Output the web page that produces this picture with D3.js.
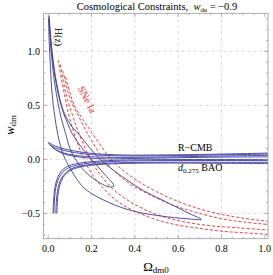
<!DOCTYPE html>
<html>
<head>
<meta charset="utf-8">
<script src="https://cdn.jsdelivr.net/npm/d3@7"></script>
<style>
  body { margin: 0; background: #fff; }
  svg text { font-family: "Liberation Serif", "DejaVu Serif", serif; }
</style>
</head>
<body>
<svg id="chart" width="273" height="275"></svg>
<script>
/* tick values */
let xTicks = [0.0, 0.2, 0.4, 0.6, 0.8, 1.0];
let yTicks = [-0.5, 0.0, 0.5, 1.0];

/* H(z) contours (closed loops) */
let hzOuter = [
    [0.003, 1.33], [0.01, 1.15], [0.02, 0.95], [0.032, 0.78], [0.045, 0.64], [0.061, 0.5],
    [0.08, 0.4], [0.11, 0.3], [0.147, 0.22], [0.19, 0.11], [0.24, 0.0], [0.3, -0.1],
    [0.37, -0.2], [0.44, -0.29], [0.52, -0.37], [0.6, -0.45], [0.66, -0.51], [0.707, -0.556],
    [0.64, -0.55], [0.52, -0.525], [0.39, -0.478], [0.28, -0.4], [0.18, -0.29], [0.145, -0.22],
    [0.1, -0.08], [0.07, 0.04], [0.045, 0.22], [0.03, 0.4], [0.018, 0.6], [0.01, 0.85],
    [0.004, 1.1], [0.002, 1.3], [0.003, 1.33]
];
let hzInner = [
    [0.004, 1.3], [0.012, 1.1], [0.022, 0.9], [0.035, 0.72], [0.05, 0.57], [0.07, 0.43],
    [0.09, 0.33], [0.11, 0.24], [0.15, 0.12], [0.19, 0.02], [0.23, -0.07], [0.27, -0.16],
    [0.3, -0.23], [0.302, -0.25], [0.28, -0.255], [0.24, -0.22], [0.19, -0.15], [0.15, -0.07],
    [0.12, 0.02], [0.1, 0.1], [0.08, 0.24], [0.06, 0.38], [0.045, 0.52], [0.03, 0.7],
    [0.018, 0.9], [0.009, 1.1], [0.004, 1.3]
];

/* SNe Ia contours (open bands) */
let sneLine1 = [[0.08, 0.76], [0.1, 0.62], [0.12, 0.5], [0.16, 0.37], [0.2, 0.25], [0.245, 0.12], [0.29, 0.0], [0.35, -0.11], [0.42, -0.21], [0.5, -0.3], [0.6, -0.39], [0.7, -0.46], [0.8, -0.51], [0.9, -0.545], [1.02, -0.575]];
let sneLine2 = [[0.068, 0.82], [0.085, 0.67], [0.105, 0.54], [0.14, 0.4], [0.17, 0.28], [0.21, 0.14], [0.255, 0.0], [0.31, -0.12], [0.38, -0.23], [0.47, -0.33], [0.57, -0.42], [0.68, -0.49], [0.8, -0.55], [0.9, -0.58], [1.02, -0.605]];
let sneLine3 = [[0.055, 0.88], [0.07, 0.72], [0.085, 0.58], [0.11, 0.42], [0.13, 0.3], [0.16, 0.15], [0.195, 0.0], [0.235, -0.13], [0.29, -0.26], [0.36, -0.37], [0.44, -0.46], [0.53, -0.53], [0.63, -0.58], [0.75, -0.615], [0.88, -0.635], [1.02, -0.655]];
let sneLine4 = [[0.046, 0.92], [0.06, 0.75], [0.075, 0.6], [0.09, 0.45], [0.11, 0.3], [0.135, 0.15], [0.165, 0.0], [0.2, -0.13], [0.25, -0.26], [0.32, -0.39], [0.4, -0.48], [0.5, -0.56], [0.6, -0.61], [0.7, -0.64], [0.8, -0.665], [0.9, -0.68], [1.02, -0.695]];

/* R-CMB contours */
let cmbOuter = [
    [1.02, 0.058], [0.7, 0.045], [0.5, 0.04], [0.35, 0.04], [0.2, 0.055], [0.1, 0.085],
    [0.05, 0.11], [0.02, 0.135], [0.0, 0.155], [0.005, 0.14], [0.02, 0.11], [0.045, 0.075],
    [0.08, 0.045], [0.13, 0.025], [0.2, 0.01], [0.27, 0.004], [0.4, 0.008], [0.6, 0.015],
    [0.8, 0.02], [1.02, 0.023]
];
let cmbInner = [
    [1.02, 0.049], [0.7, 0.038], [0.5, 0.033], [0.35, 0.032], [0.2, 0.043], [0.1, 0.07],
    [0.05, 0.095], [0.02, 0.12], [0.008, 0.135], [0.015, 0.12], [0.035, 0.09], [0.07, 0.06],
    [0.12, 0.038], [0.2, 0.024], [0.3, 0.018], [0.5, 0.02], [0.7, 0.027], [1.02, 0.037]
];

/* d0.275 BAO contours */
let baoOuterLeft = [[0.022, -0.5], [0.024, -0.4], [0.028, -0.3], [0.035, -0.22], [0.045, -0.16], [0.06, -0.11], [0.08, -0.075], [0.12, -0.045], [0.2, -0.022], [0.3, -0.01], [0.45, -0.004], [0.65, -0.002], [1.02, -0.003]];
let baoInnerLeft = [[0.026, -0.5], [0.028, -0.4], [0.032, -0.3], [0.039, -0.23], [0.05, -0.17], [0.066, -0.12], [0.088, -0.085], [0.13, -0.055], [0.2, -0.033], [0.3, -0.02], [0.45, -0.013], [0.65, -0.011], [1.02, -0.012]];
let baoInnerRight = [[0.035, -0.5], [0.037, -0.4], [0.042, -0.3], [0.05, -0.23], [0.062, -0.17], [0.08, -0.125], [0.1, -0.095], [0.14, -0.065], [0.21, -0.045], [0.3, -0.034], [0.5, -0.027], [0.7, -0.027], [1.02, -0.028]];
let baoOuterRight = [[0.04, -0.5], [0.042, -0.4], [0.047, -0.3], [0.055, -0.23], [0.068, -0.17], [0.085, -0.13], [0.11, -0.095], [0.15, -0.07], [0.22, -0.05], [0.32, -0.04], [0.5, -0.035], [0.7, -0.036], [1.02, -0.04]];

let svg = d3.select("#chart");

let plot = { left: 43.5, right: 268, top: 13.3, bottom: 238.7 };

let x = d3.scaleLinear().domain([-0.022, 1.015]).range([plot.left, plot.right]);
let y = d3.scaleLinear().domain([-0.735, 1.352]).range([plot.bottom, plot.top]);

/* dashed grid */
let grid = svg.append("g").attr("class", "grid");
xTicks.filter(d => d > 0 && d < 1).forEach(d => {
    grid.append("line")
        .attr("x1", x(d)).attr("x2", x(d))
        .attr("y1", plot.top).attr("y2", plot.bottom)
        .attr("stroke", "#d0d0d0").attr("stroke-width", 0.8).attr("stroke-dasharray", "3,3");
});
yTicks.forEach(d => {
    grid.append("line")
        .attr("x1", plot.left).attr("x2", plot.right)
        .attr("y1", y(d)).attr("y2", y(d))
        .attr("stroke", "#d0d0d0").attr("stroke-width", 0.8).attr("stroke-dasharray", "3,3");
});

/* clip */
svg.append("clipPath").attr("id", "clip")
    .append("rect")
    .attr("x", plot.left).attr("y", plot.top)
    .attr("width", plot.right - plot.left).attr("height", plot.bottom - plot.top);

let curves = svg.append("g").attr("clip-path", "url(#clip)");

let line = d3.line()
    .x(d => x(d[0]))
    .y(d => y(d[1]))
    .curve(d3.curveCatmullRom.alpha(0.5));

[sneLine1, sneLine2, sneLine3, sneLine4].forEach(pts => {
    curves.append("path")
        .attr("d", line(pts))
        .attr("fill", "none")
        .attr("stroke", "#ff3b3b")
        .attr("stroke-width", 1)
        .attr("stroke-dasharray", "3,2");
});

[hzOuter, hzInner, cmbOuter, cmbInner, baoOuterLeft, baoInnerLeft, baoInnerRight, baoOuterRight].forEach(pts => {
    curves.append("path")
        .attr("d", line(pts))
        .attr("fill", "none")
        .attr("stroke", "#3c3c9e")
        .attr("stroke-width", 0.9);
});

/* frame with ticks on all four sides */
svg.append("rect")
    .attr("x", plot.left).attr("y", plot.top)
    .attr("width", plot.right - plot.left).attr("height", plot.bottom - plot.top)
    .attr("fill", "none").attr("stroke", "#999").attr("stroke-width", 0.8);

let xMinor = d3.range(0, 1.0001, 0.05);
let yMinor = d3.range(-0.7, 1.3001, 0.1);
let ticks = svg.append("g").attr("stroke", "#999").attr("stroke-width", 0.7);
xMinor.forEach((d, i) => {
    let len = i % 4 == 0 ? 4 : 2;
    ticks.append("line").attr("x1", x(d)).attr("x2", x(d)).attr("y1", plot.bottom).attr("y2", plot.bottom - len);
    ticks.append("line").attr("x1", x(d)).attr("x2", x(d)).attr("y1", plot.top).attr("y2", plot.top + len);
});
yMinor.forEach(d => {
    let major = Math.abs(d * 2 - Math.round(d * 2)) < 1e-6;
    let len = major ? 4 : 2;
    ticks.append("line").attr("x1", plot.left).attr("x2", plot.left + len).attr("y1", y(d)).attr("y2", y(d));
    ticks.append("line").attr("x1", plot.right).attr("x2", plot.right - len).attr("y1", y(d)).attr("y2", y(d));
});

/* tick labels */
xTicks.forEach(d => {
    svg.append("text")
        .attr("x", x(d)).attr("y", 252)
        .attr("text-anchor", "middle")
        .attr("font-size", "10px")
        .text(d.toFixed(1));
});
yTicks.forEach(d => {
    svg.append("text")
        .attr("x", 40).attr("y", y(d) + 3.5)
        .attr("text-anchor", "end")
        .attr("font-size", "10px")
        .text((d < 0 ? "\u2212" : "") + Math.abs(d).toFixed(1));
});

/* title */
let title = svg.append("text")
    .attr("x", 157).attr("y", 10)
    .attr("text-anchor", "middle")
    .attr("font-size", "10.5px");
title.append("tspan").text("Cosmological Constraints,\u00a0\u00a0");
title.append("tspan").attr("font-style", "italic").text("w");
title.append("tspan").attr("font-size", "7px").attr("dy", 2).text("de");
title.append("tspan").attr("dy", -2).text(" = \u22120.9");

/* axis labels */
let xLab = svg.append("text")
    .attr("x", 156).attr("y", 271)
    .attr("text-anchor", "middle")
    .attr("font-size", "13px");
xLab.append("tspan").text("\u03a9");
xLab.append("tspan").attr("font-size", "9px").attr("dy", 2).text("dm0");

let yLab = svg.append("text")
    .attr("transform", "translate(14,125)rotate(-90)")
    .attr("text-anchor", "middle")
    .attr("font-size", "13px");
yLab.append("tspan").attr("font-style", "italic").text("w");
yLab.append("tspan").attr("font-size", "9px").attr("dy", 2).text("dm");

/* curve labels */
svg.append("text")
    .attr("transform", "translate(55,37)rotate(90)")
    .attr("text-anchor", "middle")
    .attr("font-size", "10px")
    .text("H(z)");

svg.append("text")
    .attr("transform", "translate(84,101)rotate(63)")
    .attr("text-anchor", "middle")
    .attr("font-size", "10.5px")
    .attr("fill", "#ff2a2a")
    .text("SNe Ia");

svg.append("text")
    .attr("x", 178).attr("y", 151)
    .attr("font-size", "10px")
    .text("R\u2212CMB");

let bao = svg.append("text")
    .attr("x", 178).attr("y", 171)
    .attr("font-size", "10px");
bao.append("tspan").attr("font-style", "italic").text("d");
bao.append("tspan").attr("font-size", "7px").attr("dy", 2).text("0.275");
bao.append("tspan").attr("dy", -2).text(" BAO");
</script>
</body>
</html>
